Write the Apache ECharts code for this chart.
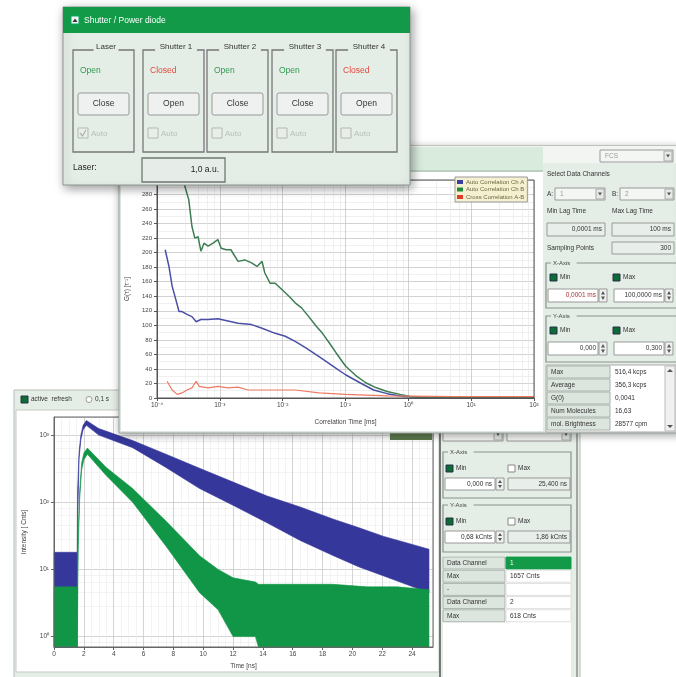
<!DOCTYPE html>
<html><head><meta charset="utf-8">
<script src="https://cdn.jsdelivr.net/npm/echarts@6/dist/echarts.min.js"></script>
<style>html,body{margin:0;padding:0;background:#fff}#c{width:676px;height:677px}</style>
</head><body><div id="c"></div>
<script>
// ---------- DATA ----------
// Correlation window (time in ms, G value)
const corrChA = [[1.35e-4,204],[1.55e-4,181],[1.74e-4,154],[2.0e-4,135],[2.24e-4,119],[2.5e-4,119],[3.0e-4,115],[3.6e-4,112],[4.2e-4,105],[5.0e-4,108],[6.5e-4,108],[9.3e-4,109],[1.35e-3,106],[1.95e-3,103],[3.2e-3,101],[4.7e-3,96],[7.6e-3,89],[0.011,85],[0.0158,78],[0.0234,69],[0.038,57],[0.063,44],[0.10,32],[0.17,21],[0.28,11],[0.46,6],[0.83,2],[1.55,1],[60,1],[100,1]];
const corrChB = [[2.4e-4,310],[3.2e-4,273],[3.6e-4,236],[4.0e-4,220],[4.5e-4,222],[5.0e-4,202],[5.6e-4,213],[6.5e-4,209],[7.8e-4,213],[9.3e-4,218],[1.05e-3,206],[1.26e-3,204],[1.5e-3,204],[1.95e-3,188],[2.5e-3,190],[3.2e-3,186],[3.9e-3,181],[4.7e-3,188],[5.2e-3,172],[6.3e-3,158],[7.6e-3,158],[9.8e-3,149],[0.0126,140],[0.0158,131],[0.020,124],[0.026,112],[0.034,99],[0.043,89],[0.055,76],[0.071,62],[0.10,44],[0.15,30],[0.21,21],[0.31,14],[0.46,9],[0.74,5],[1.07,2],[1.55,1],[10,1],[100,1]];
const corrCross = [[1.45e-4,23],[1.74e-4,11],[2.1e-4,5],[2.5e-4,7],[3.0e-4,11],[3.6e-4,14],[4.2e-4,23],[4.7e-4,16],[6.5e-4,14],[9.3e-4,16],[1.35e-3,14],[1.95e-3,15],[2.8e-3,11],[4.7e-3,11],[8.7e-3,11],[0.0158,11],[0.038,7],[0.10,5],[0.46,3],[5.4,2],[100,2]];
const corrNames = ['Auto Correlation Ch A','Auto Correlation Ch B','Cross Correlation A-B'];

// Decay window (time in ns, noisy band upper / lower envelope in counts)
const decay1Time  = [0, 1.52, 1.56, 1.58, 1.68, 1.80, 1.95, 2.17, 3.0, 5.27, 7.5, 9.76, 12.0, 14.24, 16.5, 18.73, 20.4, 22.1, 23.6, 25.13];
const decay1Upper = [18, 18, 18, 150, 560, 1000, 1400, 1650, 1250, 830, 520, 320, 200, 125, 85, 56, 42, 31, 25, 20];
const decay1Lower = [0.7, 0.7, 0.7, 40, 450, 850, 1200, 1400, 1000, 650, 330, 160, 90, 50, 27, 16, 11, 8, 6, 4.5];
const decay2Time  = [0, 1.52, 1.56, 1.62, 1.72, 1.85, 2.0, 2.24, 3.5, 5.27, 7.52, 9.76, 11.0, 12.0, 13.5, 13.7, 16.5, 18.7, 21.0, 23.0, 25.13];
const decay2Upper = [5.5, 5.5, 5, 30, 150, 380, 540, 640, 330, 160, 52, 16, 10, 7.5, 6.5, 6, 6, 6, 5.5, 5.5, 5];
const decay2Lower = [0.7, 0.7, 0.7, 20, 110, 300, 430, 520, 250, 100, 22, 4.5, 2.5, 1.0, 1.0, 0.7, 0.7, 0.7, 0.7, 0.7, 0.7];

// UI texts
const shutterNames  = ['Laser','Shutter 1','Shutter 2','Shutter 3','Shutter 4'];
const shutterStates = ['Open','Closed','Open','Open','Closed'];
const shutterButtons= ['Close','Open','Close','Close','Open'];
const fcsTable = [['Max','516,4 kcps'],['Average','356,3 kcps'],['G(0)','0,0041'],['Num Molecules','16,63'],['mol. Brightness','28577 cpm']];
const decayTable = [['Data Channel','1'],['Max','1657 Cnts'],['-',''],['Data Channel','2'],['Max','618 Cnts']];

// ---------- HELPERS ----------
const FONT = '"Liberation Sans", Arial, sans-serif';
const SUP = {'-':'⁻','0':'⁰','1':'¹','2':'²','3':'³','4':'⁴','5':'⁵','6':'⁶','7':'⁷','8':'⁸','9':'⁹'};
function pow10(v){ const e = Math.round(Math.log10(v)); return '10' + String(e).split('').map(c=>SUP[c]).join(''); }

const G = [];
function rect(x,y,w,h,fill,stroke,zl,z,o){ o=o||{};
  G.push({type:'rect', silent:true, zlevel:zl, z:z,
    shape:{x:x,y:y,width:w,height:h,r:o.r||0},
    style:Object.assign({fill:fill||'none', stroke:stroke||'none', lineWidth:o.lw||1}, o.style||{})});
}
function txt(x,y,s,o){
  G.push({type:'text', silent:true, zlevel:o.zl, z:o.z||8, x:x, y:y,
    style:{text:s, fill:o.c||'#333', fontSize:o.s||7, fontFamily:FONT, fontWeight:o.w||'normal',
      align:o.a||'left', verticalAlign:'middle', textAlign:o.a||'left', textVerticalAlign:'middle'}});
}
function poly(points,fill,zl,z){ G.push({type:'polygon', silent:true, zlevel:zl, z:z, shape:{points:points}, style:{fill:fill}}); }
function line(points,stroke,lw,zl,z){ G.push({type:'polyline', silent:true, zlevel:zl, z:z, shape:{points:points}, style:{stroke:stroke, lineWidth:lw, fill:'none'}}); }
function spin(x,y,h,zl,z){
  rect(x,y,8,h,'#eef1ef','#999',zl,z);
  poly([[x+2,y+h/2-1],[x+6,y+h/2-1],[x+4,y+2]],'#555',zl,z+1);
  poly([[x+2,y+h/2+1],[x+6,y+h/2+1],[x+4,y+h-2]],'#555',zl,z+1);
}
function check(x,y,on,zl,z){
  rect(x,y,7,7,on?'#0f6b36':'#fff',on?'#234':'#888',zl,z);
}
function dropdown(x,y,w,h,label,zl,z){
  rect(x,y,w,h,'#f4f6f4','#999',zl,z);
  rect(x+w-9,y+1,8,h-2,'#e6e9e6','#aaa',zl,z+1);
  poly([[x+w-7,y+h/2-1.5],[x+w-3,y+h/2-1.5],[x+w-5,y+h/2+1.5]],'#555',zl,z+2);
  if(label) txt(x+5,y+h/2,label,{zl:zl,z:z+2,s:6.5,c:'#999'});
}
function groupBox(x,y,w,h,label,bg,zl,z){
  rect(x,y,w,h,'none','#8a918c',zl,z,{lw:1.2});
  rect(x+5,y-3,label.length*3.6+4,6,bg,'none',zl,z+1);
  txt(x+7,y,label,{zl:zl,z:z+2,s:6,c:'#444'});
}

const UI = '#e5ede7';

// ---------- BOTTOM WINDOW (zlevel 0) ----------
rect(14,390,566,290,UI,'#b5beb7',0,0);
check(21,396,true,0,1);
txt(31,399.5,'active  refresh',{zl:0,s:6.5,c:'#333'});
G.push({type:'circle',silent:true,zlevel:0,z:1,shape:{cx:89,cy:399.5,r:3},style:{fill:'#fff',stroke:'#999'}});
txt(95,399.5,'0,1 s',{zl:0,s:6.5,c:'#333'});
rect(16,410,423,262,'#fff','#c3cbc5',0,0);
rect(390,428,42,12,'#5d7a4e','none',0,7);
// right panel
rect(440,411,138,270,UI,'none',0,0);
line([[440,411],[440,680]],'#555',1.5,0,1);
line([[577,411],[577,680]],'#777',1.2,0,1);
dropdown(443,428,60,13,'',0,1);
dropdown(507,428,64,13,'',0,1);
groupBox(443,452,128,46,'X-Axis',UI,0,1);
check(446,465,true,0,2); txt(456,468.5,'Min',{zl:0,s:6.5});
check(508,465,false,0,2); txt(518,468.5,'Max',{zl:0,s:6.5});
rect(445,478,50,12,'#fff','#999',0,2); txt(492,484,'0,000 ns',{zl:0,s:6.5,a:'right'}); spin(496,478,12,0,2);
rect(508,478,62,12,'#e8eee9','#999',0,2); txt(567,484,'25,400 ns',{zl:0,s:6.5,a:'right'});
groupBox(443,505,128,47,'Y-Axis',UI,0,1);
check(446,518,true,0,2); txt(456,521.5,'Min',{zl:0,s:6.5});
check(508,518,false,0,2); txt(518,521.5,'Max',{zl:0,s:6.5});
rect(445,531,50,12,'#fff','#999',0,2); txt(492,537,'0,68 kCnts',{zl:0,s:6.5,a:'right'}); spin(496,531,12,0,2);
rect(508,531,62,12,'#e8eee9','#999',0,2); txt(567,537,'1,86 kCnts',{zl:0,s:6.5,a:'right'});
rect(443,556,128,124,'#fff','none',0,1);
decayTable.forEach((r,i)=>{
  const y = 557 + i*13.2;
  rect(443,y,62,12,'#dde5df','#a9b2ab',0,2);
  rect(506,y,65,12,i===0?'#129a49':'#fff',i===0?'#129a49':'#e0e0e0',0,2);
  txt(447,y+6,r[0],{zl:0,z:3,s:6.5,c:'#333'});
  txt(510,y+6,r[1],{zl:0,z:3,s:6.5,c:i===0?'#fff':'#333'});
});

// ---------- MIDDLE WINDOW (zlevel 1) ----------
rect(119,146,562,287,UI,'#98a39a',1,0,{style:{shadowBlur:8,shadowColor:'rgba(0,0,0,0.35)',shadowOffsetX:1,shadowOffsetY:2}});
rect(119,146,562,17,'#f2f5f2','none',1,0);
rect(119,147,424,25,'#d9ebdd','none',1,0);
line([[119,171],[543,171]],'#9fb3a3',1,1,1);
dropdown(600,150,73,12,'FCS',1,1);
rect(121,172,422,259,'#fff','none',1,0);
txt(547,174,'Select Data Channels',{zl:1,s:6.5});
txt(547,194,'A:',{zl:1,s:6.5}); dropdown(555,188,50,12,'1',1,1);
txt(612,194,'B:',{zl:1,s:6.5}); dropdown(620,188,54,12,'2',1,1);
txt(547,211,'Min Lag Time',{zl:1,s:6.5}); txt(612,211,'Max Lag Time',{zl:1,s:6.5});
rect(547,223,58,13,'#e8eee9','#999',1,1); txt(602,229.5,'0,0001 ms',{zl:1,s:6.5,a:'right'});
rect(612,223,62,13,'#e8eee9','#999',1,1); txt(671,229.5,'100 ms',{zl:1,s:6.5,a:'right'});
txt(547,248,'Sampling Points',{zl:1,s:6.5});
rect(612,242,62,12,'#e8eee9','#999',1,1); txt(671,248,'300',{zl:1,s:6.5,a:'right'});
groupBox(546,263,132,45,'X-Axis',UI,1,1);
check(550,274,true,1,2); txt(560,277.5,'Min',{zl:1,s:6.5});
check(613,274,true,1,2); txt(623,277.5,'Max',{zl:1,s:6.5});
rect(548,289,50,13,'#fff','#999',1,2); txt(596,295.5,'0,0001 ms',{zl:1,s:6.5,a:'right',c:'#a33'}); spin(599,289,13,1,2);
rect(614,289,50,13,'#fff','#999',1,2); txt(662,295.5,'100,0000 ms',{zl:1,s:6.5,a:'right'}); spin(665,289,13,1,2);
groupBox(546,316,132,46,'Y-Axis',UI,1,1);
check(550,327,true,1,2); txt(560,330.5,'Min',{zl:1,s:6.5});
check(613,327,true,1,2); txt(623,330.5,'Max',{zl:1,s:6.5});
rect(548,342,50,13,'#fff','#999',1,2); txt(596,348.5,'0,000',{zl:1,s:6.5,a:'right'}); spin(599,342,13,1,2);
rect(614,342,50,13,'#fff','#999',1,2); txt(662,348.5,'0,300',{zl:1,s:6.5,a:'right'}); spin(665,342,13,1,2);
rect(546,365,130,67,'#fff','#aaa',1,1);
fcsTable.forEach((r,i)=>{
  const y = 366 + i*13;
  rect(547,y,63,12,'#dde5df','#a9b2ab',1,2);
  txt(551,y+6,r[0],{zl:1,z:3,s:6.5});
  txt(615,y+6,r[1],{zl:1,z:3,s:6.5});
});
rect(665,366,10,65,'#f0f0f0','#bbb',1,2);
poly([[667,372],[673,372],[670,369]],'#555',1,3);
poly([[667,425],[673,425],[670,428]],'#555',1,3);

// ---------- SHUTTER PANEL (zlevel 2) ----------
rect(63,7,347,178,UI,'#8c968e',2,0,{style:{shadowBlur:10,shadowColor:'rgba(0,0,0,0.4)',shadowOffsetX:2,shadowOffsetY:3}});
rect(63,7,347,26,'#129a48','none',2,1);
rect(71,16,8,8,'#f4f4f4','#0a6',2,2);
poly([[72.5,22],[77.5,22],[75,18.5]],'#333',2,3);
txt(84,20.5,'Shutter / Power diode',{zl:2,s:8.5,c:'#fff'});
const boxX = [73,143,207,272,336];
boxX.forEach((bx,i)=>{
  rect(bx,50,61,102,'none','#777',2,2,{lw:1.3});
  const lw = shutterNames[i].length*4.2+4;
  rect(bx+33-lw/2,44,lw,8,UI,'none',2,3);
  txt(bx+33,47,shutterNames[i],{zl:2,z:4,s:8,c:'#333',a:'center'});
  txt(bx+7,71,shutterStates[i],{zl:2,z:4,s:8.5,c:shutterStates[i]==='Open'?'#2f9a50':'#e6483a'});
  rect(bx+5,93,51,22,'#eef1ef','#999',2,3,{r:2});
  txt(bx+30.5,104,shutterButtons[i],{zl:2,z:4,s:8.5,c:'#333',a:'center'});
  rect(bx+5,128,10,10,'#e9eee9','#b3b8b3',2,3);
  if(i===0) line([[bx+7,133],[bx+9.5,136],[bx+13,130]],'#aab0ab',1.2,2,4);
  txt(bx+18,133.5,'Auto',{zl:2,z:4,s:8,c:'#b8bfba'});
});
txt(73,168,'Laser:',{zl:2,s:8.5,c:'#222'});
rect(142,158,83,24,'#e6ede8','#6f7771',2,2,{lw:1.3});
txt(219,170,'1,0 a.u.',{zl:2,z:4,s:8.5,c:'#222',a:'right'});

// plot borders
rect(54,417,379,230,'none','#666',0,6);
rect(157,180,377,218,'none','#555',1,6);

// ---------- CHART ----------
const chart = echarts.init(document.getElementById('c'), null, {renderer:'canvas'});
function band(times, upper, lower, color, name){
  return {type:'custom', name:name, xAxisIndex:0, yAxisIndex:0, zlevel:0, z:3, silent:true,
    data:[[times[0], upper[0]]],
    renderItem:function(params, api){
      const pts=[];
      for(let i=0;i<times.length;i++) pts.push(api.coord([times[i], upper[i]]));
      for(let i=times.length-1;i>=0;i--) pts.push(api.coord([times[i], lower[i]]));
      return {type:'polygon', shape:{points:pts}, style:{fill:color, stroke:color, lineWidth:0.6}};
    }};
}
const axLbl = {fontSize:6.5, color:'#444', fontFamily:FONT};
chart.setOption({
  animation:false,
  backgroundColor:'#fff',
  graphic:{elements:G},
  grid:[
    {left:54, top:417, width:379, height:230, zlevel:0, z:1, outerBoundsMode:'none', containLabel:false},
    {left:157, top:180, width:377, height:218, zlevel:1, z:1, outerBoundsMode:'none', containLabel:false}
  ],
  legend:{data:corrNames, left:455, top:177, orient:'vertical', zlevel:1, z:10,
    itemWidth:6, itemHeight:4, itemGap:1.5, padding:[2,3,2,2], icon:'rect',
    backgroundColor:'#f4f0d0', borderColor:'#999', borderWidth:1, borderRadius:0,
    textStyle:{fontSize:6, color:'#6b6a40', fontFamily:FONT, padding:[0,0,0,-2]}},
  xAxis:[
    {type:'value', gridIndex:0, min:0, max:25.4, interval:2, zlevel:0, z:2,
      name:'Time [ns]', nameLocation:'middle', nameGap:16, nameTextStyle:{fontSize:6.5,color:'#444',fontFamily:FONT},
      axisLine:{lineStyle:{color:'#666'}}, axisTick:{length:3, lineStyle:{color:'#666'}},
      axisLabel:Object.assign({showMaxLabel:false, margin:4}, axLbl),
      splitLine:{show:true, lineStyle:{color:'#c9c9c9', width:0.8}},
      minorTick:{show:false, splitNumber:4}, minorSplitLine:{show:true, lineStyle:{color:'#ebebeb', width:0.6}}},
    {type:'log', gridIndex:1, min:1e-4, max:100, logBase:10, zlevel:1, z:2,
      name:'Correlation Time [ms]', nameLocation:'middle', nameGap:21, nameTextStyle:{fontSize:6.5,color:'#444',fontFamily:FONT},
      axisLine:{lineStyle:{color:'#555'}}, axisTick:{length:3, lineStyle:{color:'#555'}},
      axisLabel:Object.assign({margin:4, formatter:pow10}, axLbl),
      splitLine:{show:true, lineStyle:{color:'#c6c6c6', width:0.8}},
      minorTick:{show:false, splitNumber:5}, minorSplitLine:{show:true, lineStyle:{color:'#e6e6e6', width:0.6}}}
  ],
  yAxis:[
    {type:'log', gridIndex:0, min:0.7, max:1860, logBase:10, zlevel:0, z:2,
      name:'Intensity [ Cnts]', nameLocation:'middle', nameGap:26, nameRotate:90, nameTextStyle:{fontSize:6.5,color:'#444',fontFamily:FONT},
      axisLine:{show:true, lineStyle:{color:'#666'}}, axisTick:{show:true, length:3, lineStyle:{color:'#666'}},
      axisLabel:Object.assign({showMinLabel:false, showMaxLabel:false, margin:5, formatter:pow10}, axLbl),
      splitLine:{show:true, lineStyle:{color:'#c9c9c9', width:0.8}},
      minorTick:{show:false, splitNumber:5}, minorSplitLine:{show:true, lineStyle:{color:'#ebebeb', width:0.6}}},
    {type:'value', gridIndex:1, min:0, max:300, interval:20, zlevel:1, z:2,
      name:'G(τ) [τ⁻¹]', nameLocation:'middle', nameGap:24, nameRotate:90, nameTextStyle:{fontSize:6.5,color:'#444',fontFamily:FONT},
      axisLine:{show:true, lineStyle:{color:'#555'}}, axisTick:{show:true, length:3, lineStyle:{color:'#555'}},
      axisLabel:Object.assign({margin:5}, axLbl, {fontSize:6}),
      splitLine:{show:true, lineStyle:{color:'#c6c6c6', width:0.8}},
      minorTick:{show:false, splitNumber:2}, minorSplitLine:{show:true, lineStyle:{color:'#e6e6e6', width:0.6}}}
  ],
  series:[
    band(decay1Time, decay1Upper, decay1Lower, '#35379b', 'Channel 1'),
    band(decay2Time, decay2Upper, decay2Lower, '#109646', 'Channel 2'),
    {type:'line', name:corrNames[0], xAxisIndex:1, yAxisIndex:1, zlevel:1, z:4, data:corrChA, showSymbol:false, symbol:'none',
      lineStyle:{color:'#4a4ea6', width:1.5}, itemStyle:{color:'#3a3ea0'}},
    {type:'line', name:corrNames[1], xAxisIndex:1, yAxisIndex:1, zlevel:1, z:4, data:corrChB, showSymbol:false, symbol:'none',
      lineStyle:{color:'#3d7d52', width:1.5}, itemStyle:{color:'#1f8a3a'}},
    {type:'line', name:corrNames[2], xAxisIndex:1, yAxisIndex:1, zlevel:1, z:4, data:corrCross, showSymbol:false, symbol:'none',
      lineStyle:{color:'#ef7a63', width:1.2}, itemStyle:{color:'#e03a2a'}}
  ]
});
</script></body></html>
